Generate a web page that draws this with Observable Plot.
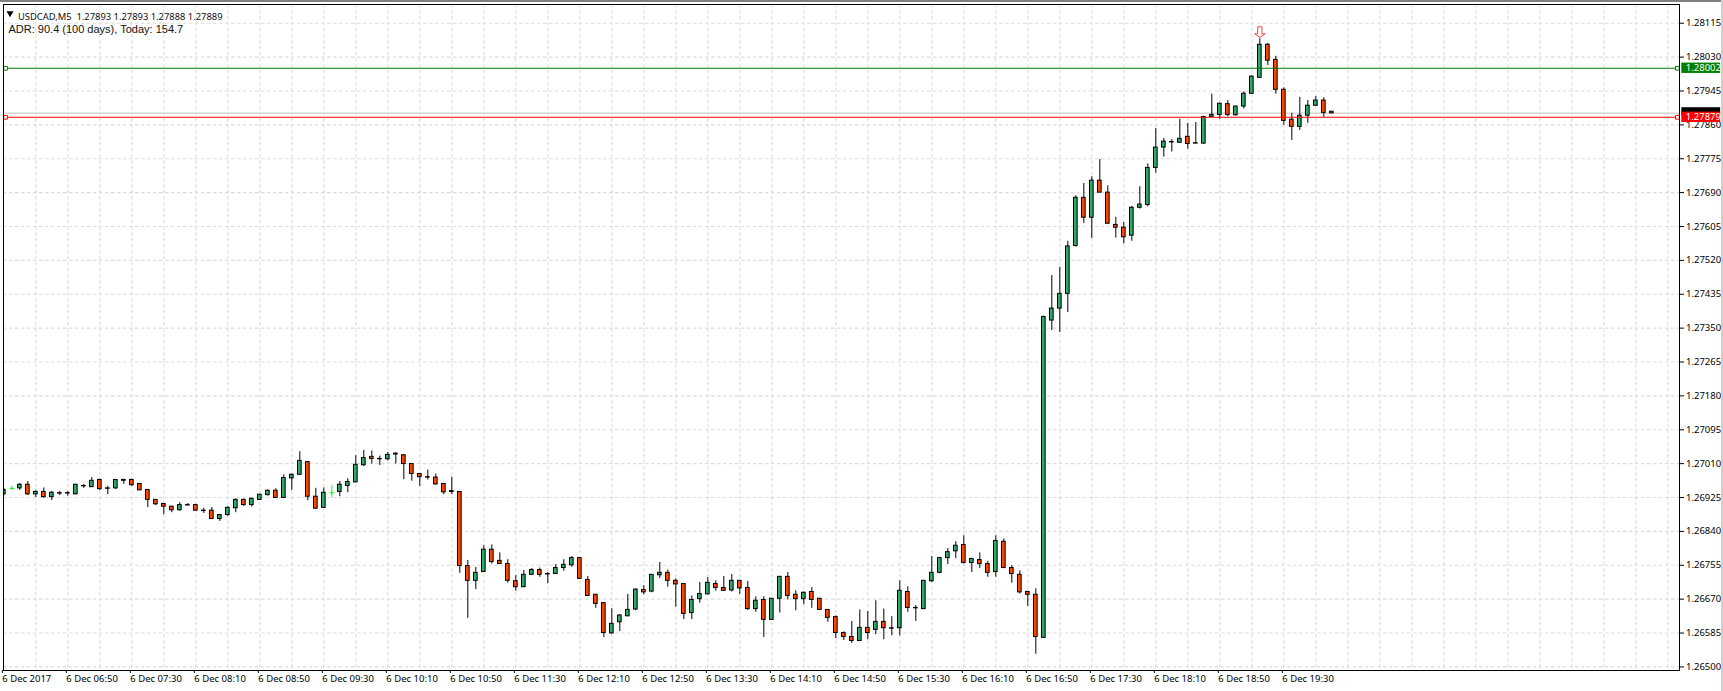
<!DOCTYPE html>
<html>
<head>
<meta charset="utf-8">
<script src="https://cdn.jsdelivr.net/npm/d3@7"></script>
<script src="https://cdn.jsdelivr.net/npm/@observablehq/plot@0.6"></script>
<style>
html,body{margin:0;padding:0;background:#fff;}
body{position:relative;width:1723px;height:691px;overflow:hidden;}
svg{display:block;}
#topEdge{position:absolute;left:0;top:0;width:1723px;height:2px;background:#7f7f7f;}
#rightEdge{position:absolute;right:0;top:0;width:2px;height:691px;background:#d4d0c8;}
</style>
</head>
<body>
<div id="chart"></div>
<div id="topEdge"></div>
<div id="rightEdge"></div>
<script>
const opens=[1.26933,1.26948,1.26948,1.26957,1.26933,1.26939,1.26926,1.26936,1.26936,1.26933,
1.26954,1.26951,1.26969,1.26948,1.26948,1.26969,1.26969,1.26959,1.26944,1.26919,
1.26909,1.26902,1.26893,1.26906,1.26906,1.26892,1.26892,1.26871,1.26881,1.26898,
1.26919,1.26906,1.26919,1.26931,1.26942,1.26924,1.26973,1.26982,1.27014,1.26927,
1.26899,1.26937,1.26939,1.26954,1.26963,1.27006,1.27027,1.27022,1.27021,1.27035,
1.27031,1.27009,1.26984,1.26976,1.26975,1.26959,1.26941,1.26939,1.26753,1.26716,
1.26738,1.26794,1.26766,1.26758,1.26715,1.26700,1.26731,1.26743,1.26733,1.26733,
1.26748,1.26755,1.26773,1.26718,1.26681,1.26660,1.26584,1.26612,1.26627,1.26644,
1.26693,1.26689,1.26730,1.26736,1.26716,1.26708,1.26635,1.26670,1.26682,1.26708,
1.26698,1.26692,1.26716,1.26698,1.26645,1.26668,1.26618,1.26671,1.26726,1.26681,
1.26670,1.26688,1.26671,1.26643,1.26625,1.26585,1.26575,1.26565,1.26598,1.26593,
1.26613,1.26597,1.26597,1.26688,1.26648,1.26645,1.26715,1.26736,1.26773,1.26790,
1.26806,1.26761,1.26768,1.26758,1.26738,1.26814,1.26748,1.26731,1.26688,1.26681,
1.26573,1.27369,1.27399,1.27436,1.27556,1.27677,1.27627,1.27720,1.27690,1.27609,
1.27602,1.27582,1.27652,1.27659,1.27752,1.27803,1.27817,1.27815,1.27830,1.27814,
1.27813,1.27880,1.27885,1.27912,1.27884,1.27906,1.27938,1.27978,1.28061,1.28023,
1.27948,1.27873,1.27855,1.27883,1.27908,1.27921,1.27893];
const closes=[1.26944,1.26948,1.26957,1.26933,1.26939,1.26926,1.26937,1.26935,1.26935,1.26957,
1.26953,1.26967,1.26946,1.26947,1.26969,1.26967,1.26956,1.26943,1.26919,1.26908,
1.26902,1.26893,1.26906,1.26905,1.26892,1.26891,1.26871,1.26881,1.26899,1.26919,
1.26906,1.26922,1.26932,1.26942,1.26924,1.26974,1.26982,1.27017,1.26927,1.26897,
1.26937,1.26937,1.26957,1.26964,1.27007,1.27024,1.27022,1.27021,1.27032,1.27033,
1.27009,1.26984,1.26976,1.26975,1.26958,1.26938,1.26939,1.26753,1.26716,1.26736,
1.26794,1.26763,1.26758,1.26716,1.26700,1.26731,1.26743,1.26731,1.26732,1.26748,
1.26756,1.26773,1.26721,1.26678,1.26658,1.26585,1.26608,1.26629,1.26643,1.26694,
1.26687,1.26731,1.26736,1.26716,1.26707,1.26633,1.26668,1.26683,1.26711,1.26698,
1.26691,1.26716,1.26697,1.26645,1.26666,1.26618,1.26671,1.26726,1.26678,1.26670,
1.26686,1.26668,1.26643,1.26623,1.26585,1.26575,1.26565,1.26598,1.26585,1.26613,
1.26597,1.26596,1.26691,1.26648,1.26647,1.26716,1.26736,1.26773,1.26788,1.26804,
1.26761,1.26771,1.26758,1.26736,1.26816,1.26748,1.26733,1.26687,1.26681,1.26575,
1.27378,1.27399,1.27436,1.27555,1.27677,1.27627,1.27720,1.27690,1.27612,1.27602,
1.27578,1.27652,1.27660,1.27752,1.27803,1.27818,1.27816,1.27825,1.27812,1.27813,
1.27880,1.27885,1.27913,1.27885,1.27906,1.27938,1.27981,1.28061,1.28021,1.27948,
1.27870,1.27855,1.27883,1.27908,1.27921,1.27890,1.27889];
const highs=[1.26948,1.26953,1.26960,1.26965,1.26943,1.26949,1.26940,1.26940,1.26940,1.26958,
1.26958,1.26975,1.26971,1.26953,1.26970,1.26971,1.26971,1.26960,1.26945,1.26920,
1.26910,1.26903,1.26912,1.26910,1.26908,1.26898,1.26900,1.26882,1.26902,1.26922,
1.26921,1.26923,1.26933,1.26944,1.26947,1.26982,1.26984,1.27040,1.27015,1.26948,
1.26949,1.26955,1.26965,1.26972,1.27030,1.27043,1.27042,1.27029,1.27038,1.27037,
1.27032,1.27010,1.26985,1.26994,1.26984,1.26960,1.26976,1.26940,1.26767,1.26750,
1.26804,1.26806,1.26786,1.26769,1.26729,1.26742,1.26747,1.26748,1.26737,1.26757,
1.26769,1.26777,1.26774,1.26727,1.26682,1.26661,1.26646,1.26631,1.26682,1.26696,
1.26704,1.26732,1.26762,1.26743,1.26721,1.26709,1.26678,1.26712,1.26724,1.26716,
1.26727,1.26732,1.26717,1.26714,1.26676,1.26676,1.26671,1.26727,1.26737,1.26691,
1.26688,1.26699,1.26672,1.26644,1.26628,1.26588,1.26614,1.26643,1.26639,1.26666,
1.26645,1.26626,1.26716,1.26701,1.26654,1.26717,1.26777,1.26775,1.26797,1.26814,
1.26829,1.26772,1.26786,1.26765,1.26829,1.26821,1.26754,1.26741,1.26690,1.26696,
1.27380,1.27482,1.27503,1.27568,1.27682,1.27713,1.27730,1.27773,1.27707,1.27628,
1.27615,1.27655,1.27705,1.27762,1.27851,1.27826,1.27823,1.27874,1.27864,1.27866,
1.27881,1.27937,1.27914,1.27921,1.27907,1.27943,1.27983,1.28076,1.28064,1.28032,
1.27953,1.27889,1.27929,1.27921,1.27931,1.27928,1.27893];
const lows=[1.26929,1.26942,1.26943,1.26930,1.26925,1.26923,1.26917,1.26930,1.26928,1.26932,
1.26948,1.26950,1.26943,1.26932,1.26945,1.26958,1.26953,1.26942,1.26900,1.26905,
1.26882,1.26887,1.26891,1.26904,1.26891,1.26885,1.26870,1.26865,1.26878,1.26887,
1.26903,1.26901,1.26918,1.26929,1.26923,1.26923,1.26943,1.26981,1.26917,1.26896,
1.26898,1.26924,1.26927,1.26937,1.26962,1.27003,1.27009,1.27005,1.27017,1.27009,
1.26970,1.26966,1.26953,1.26969,1.26956,1.26932,1.26932,1.26735,1.26622,1.26694,
1.26737,1.26758,1.26757,1.26710,1.26690,1.26699,1.26730,1.26725,1.26709,1.26732,
1.26740,1.26750,1.26720,1.26677,1.26647,1.26574,1.26582,1.26589,1.26626,1.26641,
1.26681,1.26686,1.26722,1.26700,1.26650,1.26619,1.26619,1.26660,1.26681,1.26690,
1.26690,1.26688,1.26682,1.26642,1.26637,1.26574,1.26617,1.26635,1.26668,1.26641,
1.26656,1.26647,1.26642,1.26612,1.26571,1.26566,1.26559,1.26564,1.26568,1.26581,
1.26568,1.26578,1.26578,1.26637,1.26614,1.26644,1.26712,1.26734,1.26757,1.26772,
1.26758,1.26737,1.26747,1.26725,1.26725,1.26747,1.26710,1.26683,1.26652,1.26532,
1.26571,1.27344,1.27339,1.27389,1.27553,1.27613,1.27575,1.27689,1.27611,1.27576,
1.27561,1.27568,1.27649,1.27654,1.27739,1.27779,1.27792,1.27814,1.27799,1.27812,
1.27812,1.27879,1.27874,1.27880,1.27882,1.27900,1.27937,1.27977,1.28009,1.27937,
1.27859,1.27821,1.27846,1.27864,1.27907,1.27879,1.27888];

const priceTicks=[1.26500,1.26585,1.26670,1.26755,1.26840,1.26925,1.27010,1.27095,1.27180,1.27265,1.27350,1.27435,1.27520,1.27605,1.27690,1.27775,1.27860,1.27945,1.28030,1.28115];
const timeLabels=["6 Dec 2017","6 Dec 06:50","6 Dec 07:30","6 Dec 08:10","6 Dec 08:50","6 Dec 09:30","6 Dec 10:10","6 Dec 10:50","6 Dec 11:30","6 Dec 12:10","6 Dec 12:50","6 Dec 13:30","6 Dec 14:10","6 Dec 14:50","6 Dec 15:30","6 Dec 16:10","6 Dec 16:50","6 Dec 17:30","6 Dec 18:10","6 Dec 18:50","6 Dec 19:30"];
const header="USDCAD,M5  1.27893 1.27893 1.27888 1.27889";
const adr="ADR: 90.4 (100 days), Today: 154.7";
const greenLevel=1.28002, redLevel=1.27879, bidLevel=1.27889;
const signalBar=157, signalPrice=1.28093;

const bars=opens.map((open,i)=>({i,open,close:closes[i],high:highs[i],low:lows[i]}));
const flat=bars.filter(d=>d.open===d.close);
const real=bars.filter(d=>d.open!==d.close);
const timeTicks=timeLabels.map((_,k)=>k*8);
const gridBars=d3.range(4,209,4);

const UI="'Noto Sans',sans-serif";
const BULL="#2fa968",BEAR="#ff4500",LIME="#00ff00";
const tagLeft=209.75,tagRight=214.6,tagText=210.25,handleL=0.22,handleR=209.2;

const downArrow={draw(c,size){const r=Math.sqrt(size/Math.PI);
 c.moveTo(-.4*r,-r);c.lineTo(.4*r,-r);c.lineTo(.4*r,.35*r);c.lineTo(r,.35*r);c.lineTo(0,1.05*r);c.lineTo(-r,.35*r);c.lineTo(-.4*r,.35*r);c.closePath();}};

const plot=Plot.plot({
 width:1723,height:691,marginLeft:3,marginRight:44,marginTop:4,marginBottom:21,
 style:{fontFamily:UI,background:"transparent"},
 x:{type:"linear",domain:[-0.04,209.46],axis:null},
 y:{type:"linear",domain:[1.26491,1.28162],axis:null},
 marks:[
  Plot.ruleX(gridBars,{stroke:"#dcdcdc",strokeWidth:1.1,strokeDasharray:"3.4,2.6"}),
  Plot.ruleY(priceTicks,{stroke:"#dcdcdc",strokeWidth:1.1,strokeDasharray:"3.4,2.6"}),
  Plot.ruleY([bidLevel],{stroke:"#d6d6d6",strokeWidth:1.5}),
  Plot.ruleX(real,{x:"i",y1:"low",y2:"high",stroke:"#000",strokeWidth:1,clip:true}),
  Plot.ruleX(flat,{x:"i",y1:"low",y2:"high",stroke:LIME,strokeWidth:1,clip:true}),
  Plot.link(flat,{x1:d=>d.i-.3,x2:d=>d.i+.3,y1:"close",y2:"close",stroke:LIME,strokeWidth:1,markerEnd:"none"}),
  Plot.rect(real.filter(d=>d.close>d.open),{x1:d=>d.i-.23,x2:d=>d.i+.23,y1:"open",y2:"close",fill:BULL,stroke:"#000",strokeWidth:1,clip:true}),
  Plot.rect(real.filter(d=>d.close<d.open),{x1:d=>d.i-.23,x2:d=>d.i+.23,y1:"open",y2:"close",fill:BEAR,stroke:"#000",strokeWidth:1,clip:true}),
  Plot.ruleY([greenLevel],{stroke:"#008000",strokeWidth:1.1}),
  Plot.ruleY([redLevel],{stroke:"#ff0000",strokeWidth:1.1}),
  Plot.dot([[handleL,greenLevel],[handleR,greenLevel]],{x:d=>d[0],y:d=>d[1],symbol:"square",r:2.1,fill:"#fff",stroke:"#008000",strokeWidth:1}),
  Plot.dot([[handleL,redLevel],[handleR,redLevel]],{x:d=>d[0],y:d=>d[1],symbol:"square",r:2.1,fill:"#fff",stroke:"#ff0000",strokeWidth:1}),
  Plot.dot([signalBar],{x:d=>d,y:()=>signalPrice,symbol:downArrow,r:5.2,fill:"#fff",stroke:"#f4423c",strokeWidth:1}),
  Plot.frame({stroke:"#000",strokeWidth:1}),
  Plot.axisY(priceTicks,{anchor:"right",label:null,tickSize:4,tickPadding:2.5,tickFormat:d=>d.toFixed(5),fontSize:9.5,fill:"#000",stroke:"#000",textStroke:"none"}),
  Plot.axisX(timeTicks,{anchor:"bottom",label:null,tickSize:3,tickPadding:2,tickFormat:d=>timeLabels[d/8],textAnchor:"start",dx:-1.5,fontSize:9.5,fill:"#000"}),
  Plot.rect([0],{x1:()=>tagLeft,x2:()=>tagRight,y1:()=>bidLevel-0.00006,y2:()=>bidLevel+0.00014,fill:"#000"}),
  Plot.rect([0],{x1:()=>tagLeft,x2:()=>tagRight,y1:()=>greenLevel-0.00013,y2:()=>greenLevel+0.00013,fill:"#008000"}),
  Plot.rect([0],{x1:()=>tagLeft,x2:()=>tagRight,y1:()=>redLevel-0.00013,y2:()=>redLevel+0.00013,fill:"#ff0000"}),
  Plot.text([greenLevel,redLevel],{x:()=>tagText,y:d=>d,text:d=>d.toFixed(5),textAnchor:"start",fill:"#fff",fontSize:9.5}),
  Plot.dot([0],{frameAnchor:"top-left",dx:6.5,dy:8.8,symbol:"triangle",r:2.6,fill:"#000",rotate:180}),
  Plot.text([header],{frameAnchor:"top-left",dx:14.5,dy:8.5,textAnchor:"start",fill:"#111",fontSize:9.4}),
  Plot.text([adr],{frameAnchor:"top-left",dx:5,dy:20.5,textAnchor:"start",fill:"#111",fontFamily:"'Liberation Sans',sans-serif",fontSize:11})
 ]
});
document.getElementById("chart").append(plot);
</script>
</body>
</html>
